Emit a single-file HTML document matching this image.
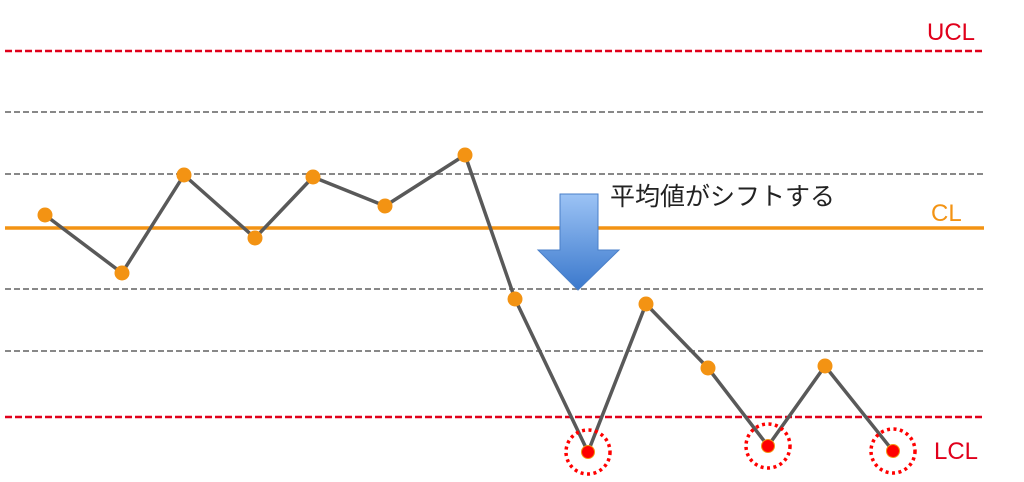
<!DOCTYPE html>
<html><head><meta charset="utf-8"><style>
html,body{margin:0;padding:0;background:#fff;}
svg{display:block;}
</style></head><body>
<svg width="1024" height="482" viewBox="0 0 1024 482" xmlns="http://www.w3.org/2000/svg">
<defs>
<linearGradient id="g" x1="0" y1="0" x2="0" y2="1">
<stop offset="0" stop-color="#9cc3f5"/><stop offset="1" stop-color="#3a78cc"/>
</linearGradient>
</defs>
<g stroke="#888" stroke-width="2" stroke-dasharray="6,3">
<line x1="5" y1="112" x2="984" y2="112"/>
<line x1="5" y1="174" x2="984" y2="174"/>
<line x1="5" y1="289" x2="984" y2="289"/>
<line x1="5" y1="351" x2="984" y2="351"/>
</g>
<g stroke="#e0001b" stroke-width="2.5" stroke-dasharray="7,3">
<line x1="5" y1="51" x2="985" y2="51"/>
<line x1="5" y1="417" x2="985" y2="417"/>
</g>
<line x1="5" y1="228" x2="984" y2="228" stroke="#f39313" stroke-width="3.5"/>
<polygon points="560,194 598,194 598,250 619,250 578,290 538,250 560,250" fill="url(#g)" stroke="#4a7fc8" stroke-width="1"/>
<polyline fill="none" stroke="#595959" stroke-width="3.5" stroke-linejoin="round" points="45,215 122,273 184,175 255,238 313,177 385,206 465,155 515,299 588,452 646,304 708,368 768,446 825,366 893,451"/>
<g fill="#f39313">
<circle cx="45" cy="215" r="7.5"/><circle cx="122" cy="273" r="7.5"/><circle cx="184" cy="175" r="7.5"/>
<circle cx="255" cy="238" r="7.5"/><circle cx="313" cy="177" r="7.5"/><circle cx="385" cy="206" r="7.5"/>
<circle cx="465" cy="155" r="7.5"/><circle cx="515" cy="299" r="7.5"/><circle cx="646" cy="304" r="7.5"/>
<circle cx="708" cy="368" r="7.5"/><circle cx="825" cy="366" r="7.5"/>
</g>
<g fill="#ff0000" stroke="#f39313" stroke-width="1">
<circle cx="588" cy="452" r="6.5"/><circle cx="768" cy="446" r="6.5"/><circle cx="893" cy="451" r="6.5"/>
</g>
<g fill="none" stroke="#ff0000" stroke-width="3.5" stroke-dasharray="3,3.5">
<circle cx="588" cy="452" r="22"/><circle cx="768" cy="446" r="22"/><circle cx="893" cy="451" r="22"/>
</g>
<g font-family="Liberation Sans, Noto Sans CJK JP, sans-serif" font-size="24">
<text x="927" y="40" fill="#e0001b">UCL</text>
<text x="931" y="221" fill="#f39313">CL</text>
<text x="934" y="459" fill="#e0001b">LCL</text>
</g>
<text x="610" y="205" font-family="Liberation Sans, Noto Sans CJK JP, sans-serif" font-size="25" fill="#222">平均値がシフトする</text>
</svg>
</body></html>
